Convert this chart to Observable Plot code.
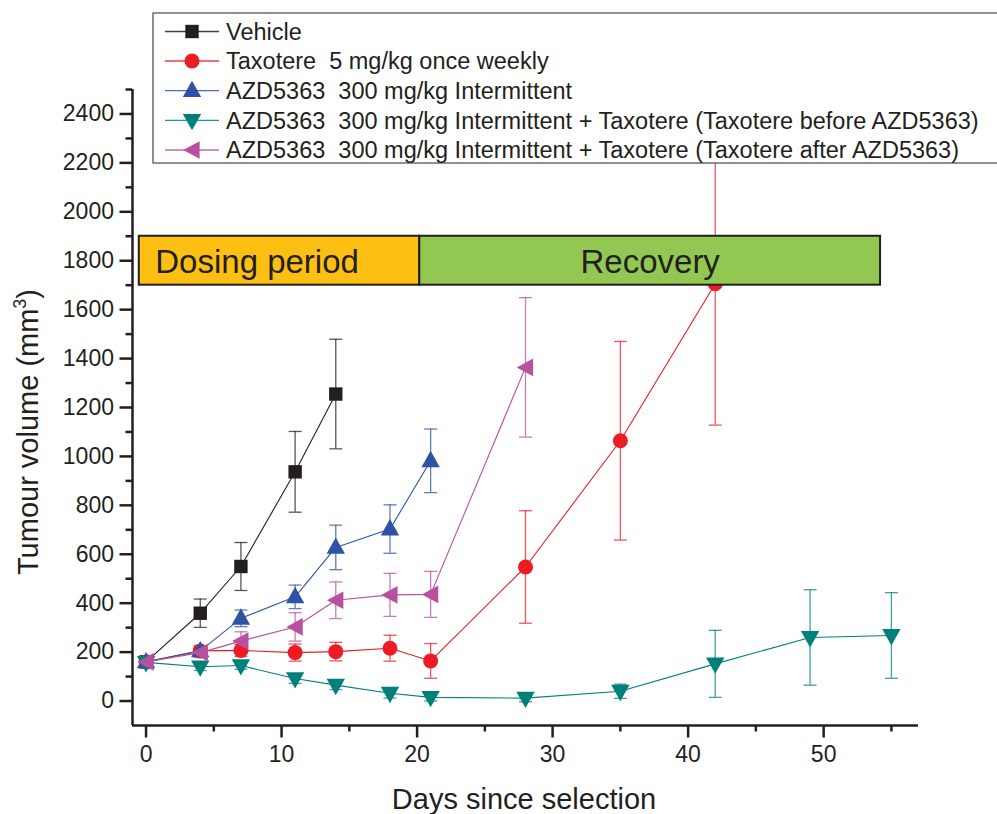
<!DOCTYPE html>
<html><head><meta charset="utf-8">
<script src="https://cdn.jsdelivr.net/npm/d3@7"></script>
<script src="https://cdn.jsdelivr.net/npm/@observablehq/plot@0.6"></script>
<style>body{margin:0;background:#fff} svg{display:block} text{white-space:pre}</style>
</head><body><div id="chart"></div>
<script>
// ---- data ----
const days = [0, 4, 7, 11, 14, 18, 21, 28, 35, 42, 49, 55];

const seriesNames = [
  "Vehicle",
  "Taxotere  5 mg/kg once weekly",
  "AZD5363  300 mg/kg Intermittent",
  "AZD5363  300 mg/kg Intermittent + Taxotere (Taxotere before AZD5363)",
  "AZD5363  300 mg/kg Intermittent + Taxotere (Taxotere after AZD5363)"
];
const seriesColors = ["#231f20", "#ed1c24", "#2e52a5", "#00807a", "#b8509f"];

const vehicleMean = [160, 359, 550, 937, 1255];
const vehicleSd   = [10, 58, 98, 165, 224];

const taxotereMean = [160, 205, 207, 198, 202, 216, 164, 548, 1064, 1706];
const taxotereSd   = [10, 20, 25, 35, 38, 53, 71, 230, 406, 578];

const azdMean = [160, 205, 338, 426, 628, 703, 982];
const azdSd   = [10, 20, 34, 48, 91, 99, 130];

const beforeMean = [158, 140, 145, 92, 65, 32, 15, 12, 40, 152, 260, 268];
const beforeSd   = [10, 15, 15, 20, 18, 20, 15, 15, 29, 137, 195, 175];

const afterMean = [160, 198, 245, 303, 412, 434, 436, 1364];
const afterSd   = [10, 20, 38, 58, 75, 88, 94, 285];

const periodLabels = ["Dosing period", "Recovery"];
const periodStart  = [-0.5, 20.2];
const periodEnd    = [20.2, 54.2];
const periodLow    = 1700;
const periodHigh   = 1900;
const periodColors = ["#fdbf12", "#92c851"];

const xTicks = [0, 10, 20, 30, 40, 50];
const xMinor = [5, 15, 25, 35, 45, 55];
const yTicks = [0, 200, 400, 600, 800, 1000, 1200, 1400, 1600, 1800, 2000, 2200, 2400];
const yMinor = [100, 300, 500, 700, 900, 1100, 1300, 1500, 1700, 1900, 2100, 2300, 2500];

// ---- symbols ----
const rad = s => Math.sqrt(s / Math.PI);
const symSquare = {draw(c, s) { const r = rad(s); c.rect(-r, -r, 2 * r, 2 * r); }};
const symCircle = {draw(c, s) { const r = rad(s); c.moveTo(r, 0); c.arc(0, 0, r, 0, 2 * Math.PI); }};
const symUp = {draw(c, s) { const r = rad(s); c.moveTo(0, -1.25 * r); c.lineTo(1.15 * r, 0.8 * r); c.lineTo(-1.15 * r, 0.8 * r); c.closePath(); }};
const symDown = {draw(c, s) { const r = rad(s); c.moveTo(0, 1.25 * r); c.lineTo(1.15 * r, -0.8 * r); c.lineTo(-1.15 * r, -0.8 * r); c.closePath(); }};
const symLeft = {draw(c, s) { const r = rad(s); c.moveTo(-1.1 * r, 0); c.lineTo(0.95 * r, -1.1 * r); c.lineTo(0.95 * r, 1.1 * r); c.closePath(); }};
const symCap = {draw(c, s) { const r = rad(s); c.moveTo(-r, 0); c.lineTo(r, 0); }};

const seriesSymbols = [symSquare, symCircle, symUp, symDown, symLeft];
const seriesR = [6.7, 7.5, 8, 8, 8];
const means = [vehicleMean, taxotereMean, azdMean, beforeMean, afterMean];
const sds = [vehicleSd, taxotereSd, azdSd, beforeSd, afterSd];

const series = seriesNames.map((name, k) => ({
  name, color: seriesColors[k], symbol: seriesSymbols[k], r: seriesR[k],
  rows: means[k].map((m, i) => ({day: days[i], mean: m, lo: m - sds[k][i], hi: m + sds[k][i]}))
}));

const periods = periodLabels.map((label, i) => ({
  label, x1: periodStart[i], x2: periodEnd[i], fill: periodColors[i]
}));

const ink = "#231f20";
const font = "'Liberation Sans', Arial, Helvetica, sans-serif";

const marks = [];
for (const s of series) {
  marks.push(Plot.line(s.rows, {x: "day", y: "mean", stroke: s.color, strokeWidth: 1.1}));
  marks.push(Plot.ruleX(s.rows, {x: "day", y1: "lo", y2: "hi", stroke: s.color, strokeOpacity: 0.75, strokeWidth: 1.3}));
  marks.push(Plot.dot(s.rows, {x: "day", y: "hi", symbol: symCap, r: 6.5, fill: "none", stroke: s.color, strokeOpacity: 0.75, strokeWidth: 1.3}));
  marks.push(Plot.dot(s.rows, {x: "day", y: "lo", symbol: symCap, r: 6.5, fill: "none", stroke: s.color, strokeOpacity: 0.75, strokeWidth: 1.3}));
}
for (const s of series) {
  marks.push(Plot.dot(s.rows, {x: "day", y: "mean", symbol: s.symbol, r: s.r, fill: s.color, stroke: "none"}));
}

const chart = Plot.plot({
  width: 997, height: 814,
  marginLeft: 132, marginRight: 79, marginTop: 89, marginBottom: 89,
  style: {color: ink, fontFamily: font, background: "#fff", overflow: "visible"},
  x: {domain: [-1, 57]},
  y: {domain: [-100, 2500]},
  marks: [
    ...marks,
    Plot.rect(periods, {x1: "x1", x2: "x2", y1: periodLow, y2: periodHigh, fill: "fill", stroke: ink, strokeWidth: 2}),
    Plot.text(periods.slice(0, 1), {x: "x1", y: (periodLow + periodHigh) / 2, text: "label", fontSize: 33,
      textAnchor: "start", dx: 16, dy: 2, fill: ink}),
    Plot.text(periods.slice(1), {x: d => (d.x1 + d.x2) / 2, y: (periodLow + periodHigh) / 2, text: "label", fontSize: 33,
      textAnchor: "middle", dy: 2, fill: ink}),
    Plot.axisX({ticks: xTicks, tickSize: 12.5, tickPadding: 8, fontSize: 23, strokeWidth: 2.5, label: null, tickFormat: d => String(d)}),
    Plot.axisX({ticks: xMinor, tickSize: 6.5, strokeWidth: 2.5, label: null, tickFormat: () => ""}),
    Plot.axisY({ticks: yTicks, tickSize: 12.5, tickPadding: 6, fontSize: 23, strokeWidth: 2.5, label: null, tickFormat: d => String(d)}),
    Plot.axisY({ticks: yMinor, tickSize: 6.5, strokeWidth: 2.5, label: null, tickFormat: () => ""}),
    Plot.ruleX([-1], {stroke: ink, strokeWidth: 2.5}),
    Plot.ruleY([-100], {stroke: ink, strokeWidth: 2.5})
  ]
});

document.getElementById("chart").append(chart);
const svg = d3.select(chart);

// axis titles
svg.append("text")
  .attr("x", 524).attr("y", 809)
  .attr("text-anchor", "middle")
  .attr("font-family", font).attr("font-size", 29).attr("fill", ink)
  .text("Days since selection");

const yt = svg.append("text")
  .attr("transform", "translate(38,432) rotate(-90)")
  .attr("text-anchor", "middle")
  .attr("font-family", font).attr("font-size", 29).attr("fill", ink);
yt.append("tspan").text("Tumour volume (mm");
yt.append("tspan").attr("dy", -12).attr("font-size", 18).text("3");
yt.append("tspan").attr("dy", 12).text(")");

// legend
const lg = svg.append("g");
lg.append("rect").attr("x", 153).attr("y", 13).attr("width", 900).attr("height", 150)
  .attr("fill", "#fff").attr("stroke", "#555").attr("stroke-width", 1.3);
const rowY = [31.5, 61, 90.7, 120.3, 150];
series.forEach((s, k) => {
  const g = lg.append("g").attr("transform", `translate(0,${rowY[k]})`);
  g.append("line").attr("x1", 165).attr("x2", 219).attr("stroke", s.color).attr("stroke-width", 1.3).attr("stroke-opacity", 0.85);
  g.append("path").attr("transform", "translate(192,0)")
    .attr("d", d3.symbol(s.symbol, s.r * s.r * Math.PI)()).attr("fill", s.color);
  g.append("text").attr("x", 226).attr("dy", "0.36em").attr("text-anchor", "start")
    .attr("font-family", font).attr("font-size", 23.5).attr("fill", ink)
    .text(s.name);
});
</script>
</body></html>
